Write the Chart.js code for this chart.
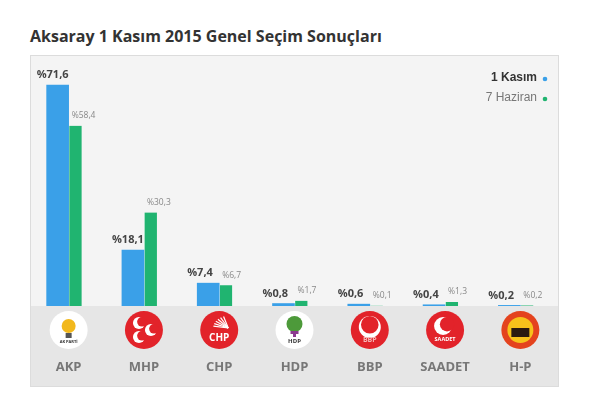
<!DOCTYPE html>
<html lang="tr">
<head>
<meta charset="UTF-8">
<title>Aksaray 1 Kasım 2015 Genel Seçim Sonuçları</title>
<style>
    body{
        margin:0;
        background:#fff;
        width:589px;
        height:415px;
        position:relative;
        overflow:hidden;
    }
    h1{
        position:absolute;
        left:30px;
        top:24px;
        margin:0;
        font:bold 16px "Open Sans", sans-serif;
        line-height:24px;
        color:#333;
    }
    .box{
        position:absolute;
        left:30px;
        top:55px;
        width:529px;
        height:332px;
        box-sizing:border-box;
        border:1px solid #dcdcdc;
    }
</style>
</head>
<body>
<h1>Aksaray 1 Kasım 2015 Genel Seçim Sonuçları</h1>
<div class="box">
    <canvas id="myc"></canvas>
</div>

<script src="https://cdn.jsdelivr.net/npm/chart.js"></script>
<script>
// values
const parties = ['AKP', 'MHP', 'CHP', 'HDP', 'BBP', 'SAADET', 'H-P'];
const kasim = [71.6, 18.1, 7.4, 0.8, 0.6, 0.4, 0.2];
const haziran = [58.4, 30.3, 6.7, 1.7, 0.1, 1.3, 0.2];
const seriesNames = ['1 Kasım', '7 Haziran'];

const blue = '#3aa0e8';
const green = '#20b470';

function fmt(v){
    return '%' + v.toFixed(1).replace('.', ',');
}

// panel backgrounds
const panelBg = {
    id: 'panelBg',
    beforeDraw(chart){
        const c = chart.ctx, a = chart.chartArea;
        c.save();
        c.fillStyle = '#e6e6e6';
        c.fillRect(0, 0, chart.width, chart.height);
        c.fillStyle = '#f4f4f4';
        c.fillRect(0, 0, chart.width, a.bottom);
        c.restore();
    }
};

// value labels above the bars
const valueLabels = {
    id: 'valueLabels',
    afterDatasetsDraw(chart){
        const c = chart.ctx;
        c.save();
        c.textBaseline = 'middle';
        c.textAlign = 'left';
        chart.data.datasets.forEach(function(ds, di){
            const meta = chart.getDatasetMeta(di);
            meta.data.forEach(function(bar, i){
                const left = bar.x - bar.width / 2;
                if (di === 0) {
                    c.font = 'bold 11px "Open Sans", sans-serif';
                    c.fillStyle = '#444';
                    c.fillText(fmt(ds.data[i]), left - 10, bar.y - 10);
                } else {
                    c.font = '8.5px "Open Sans", sans-serif';
                    c.fillStyle = '#888';
                    c.fillText(fmt(ds.data[i]), left + 3, bar.y - 10);
                }
            });
        });
        c.restore();
    }
};

// legend in the top right corner, dot on the right side
const cornerLegend = {
    id: 'cornerLegend',
    afterDraw(chart){
        const c = chart.ctx;
        c.save();
        c.textAlign = 'right';
        c.textBaseline = 'middle';
        chart.data.datasets.forEach(function(ds, di){
            const y = 22 + di * 20;
            c.font = (di === 0 ? 'bold ' : '') + '12px "Liberation Sans", Arial, sans-serif';
            c.fillStyle = di === 0 ? '#333' : '#777';
            c.fillText(ds.label, 506, y);
            c.beginPath();
            c.arc(514, y + 1, 2.3, 0, Math.PI * 2);
            c.fillStyle = ds.backgroundColor;
            c.fill();
        });
        c.restore();
    }
};

// rough party emblems above the tick labels
function crescent(c, x, y, r, col, bg, dx){
    c.beginPath();
    c.arc(x, y, r, 0, Math.PI * 2);
    c.fillStyle = col;
    c.fill();
    c.beginPath();
    c.arc(x + dx, y - r * 0.2, r * 0.8, 0, Math.PI * 2);
    c.fillStyle = bg;
    c.fill();
}
function smallText(c, t, x, y, size, col){
    c.font = 'bold ' + size + 'px "Open Sans", sans-serif';
    c.fillStyle = col;
    c.textAlign = 'center';
    c.textBaseline = 'middle';
    c.fillText(t, x, y);
}
const emblems = {
    id: 'emblems',
    afterDraw(chart){
        const c = chart.ctx, sx = chart.scales.x;
        const y = 274, r = 19;
        c.save();
        parties.forEach(function(p, i){
            const x = sx.getPixelForTick(i);
            const red = '#e2232a';
            let fill = red;
            if (p === 'AKP' || p === 'HDP') fill = '#ffffff';
            if (p === 'H-P') fill = '#e4431e';
            c.beginPath();
            c.arc(x, y, r, 0, Math.PI * 2);
            c.fillStyle = fill;
            c.fill();
            if (p === 'AKP') {
                c.beginPath();
                c.arc(x, y - 4, 7, 0, Math.PI * 2);
                c.fillStyle = '#f2b81c';
                c.fill();
                c.fillStyle = '#555';
                c.fillRect(x - 3, y + 3, 6, 5);
                smallText(c, 'AK PARTİ', x, y + 12, 4, '#333');
            } else if (p === 'MHP') {
                crescent(c, x - 5, y - 7, 6, '#fff', red, 3);
                crescent(c, x - 5, y + 7, 6, '#fff', red, 3);
                crescent(c, x + 7, y, 6, '#fff', red, 3);
            } else if (p === 'CHP') {
                c.strokeStyle = '#fff';
                c.lineWidth = 1.2;
                for (let k = 0; k < 6; k++) {
                    const a = -Math.PI * 0.95 + k * 0.22;
                    c.beginPath();
                    c.moveTo(x + 9, y - 2);
                    c.lineTo(x + 9 + Math.cos(a) * 15, y - 2 + Math.sin(a) * 12);
                    c.stroke();
                }
                smallText(c, 'CHP', x, y + 8, 10, '#fff');
            } else if (p === 'HDP') {
                c.beginPath();
                c.arc(x, y - 6, 8, 0, Math.PI * 2);
                c.fillStyle = '#4d9a3a';
                c.fill();
                c.fillStyle = '#8b3a8f';
                c.fillRect(x - 4, y + 1, 8, 3);
                c.fillRect(x - 1.5, y + 1, 3, 6);
                smallText(c, 'HDP', x, y + 11, 6, '#333');
            } else if (p === 'BBP') {
                crescent(c, x, y - 3, 11, '#fff', red, 0);
                smallText(c, 'BBP', x, y + 10, 7, '#f5b5b5');
            } else if (p === 'SAADET') {
                crescent(c, x - 2, y - 4, 9, '#fff', red, 4);
                smallText(c, 'SAADET', x, y + 9, 5.5, '#fff');
            } else if (p === 'H-P') {
                c.beginPath();
                c.arc(x, y, 13, 0, Math.PI * 2);
                c.fillStyle = '#f7c21b';
                c.fill();
                c.fillStyle = '#2a1a10';
                c.fillRect(x - 9, y - 2, 18, 9);
            }
        });
        c.restore();
    }
};

const ctx = document.getElementById('myc').getContext('2d');
const myChart = new Chart(ctx, {
    type: 'bar',
    data: {
        labels: parties,
        datasets: [{
            label: seriesNames[0],
            data: kasim,
            backgroundColor: blue,
            barThickness: 22,
            borderWidth: 0
        }, {
            label: seriesNames[1],
            data: haziran,
            backgroundColor: green,
            barThickness: 13,
            borderWidth: {left: 1, top: 0, right: 0, bottom: 0},
            borderColor: '#ffffff',
            borderSkipped: false
        }]
    },
    options: {
        responsive: true,
        maintainAspectRatio: false,
        animation: false,
        layout: {padding: 0},
        plugins: {
            legend: {display: false},
            tooltip: {enabled: false}
        },
        scales: {
            x: {
                grid: {display: false, drawTicks: false},
                border: {display: false},
                ticks: {
                    padding: 53,
                    color: '#777',
                    font: {family: '"Open Sans", sans-serif', size: 13, weight: 'bold'}
                },
                // tick padding would also widen the side paddings, drop them
                afterFit: function(scale){
                    scale.height = 80;
                    scale.paddingLeft = 0;
                    scale.paddingRight = 0;
                }
            },
            y: {
                display: false,
                min: 0,
                max: 81
            }
        }
    },
    plugins: [panelBg, valueLabels, cornerLegend, emblems]
});
</script>
</body>
</html>
